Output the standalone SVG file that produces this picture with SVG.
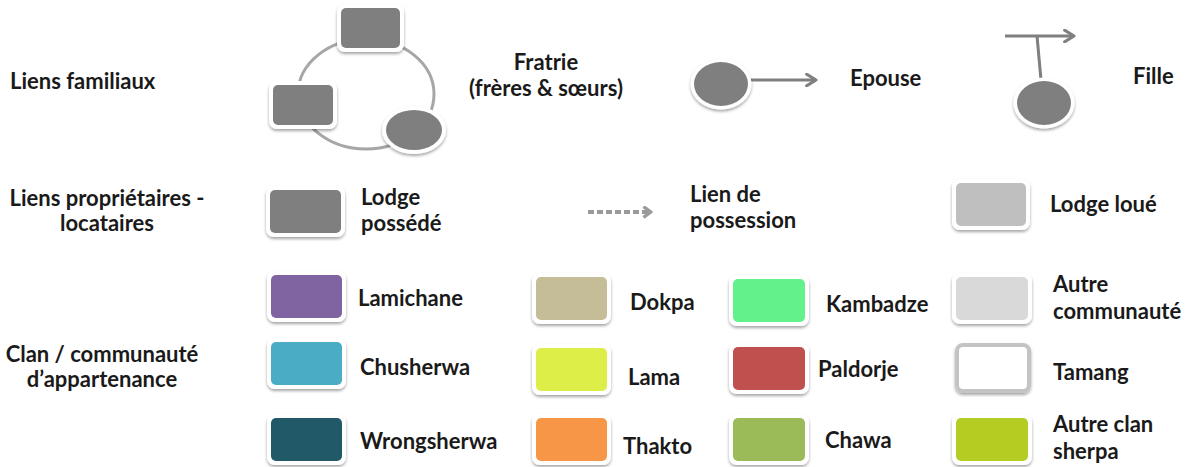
<svg xmlns="http://www.w3.org/2000/svg" width="1196" height="467" viewBox="0 0 1196 467">
<defs>
<filter id="sh" x="-20%" y="-20%" width="140%" height="160%">
<feDropShadow dx="0" dy="2" stdDeviation="1.6" flood-color="#000" flood-opacity="0.35"/>
</filter>
<marker id="ah" viewBox="0 0 12 12" refX="10" refY="6" markerWidth="14" markerHeight="14" markerUnits="userSpaceOnUse" orient="auto">
<path d="M2,1 L10,6 L2,11" fill="none" stroke="#7f7f7f" stroke-width="2.6" stroke-linecap="round" stroke-linejoin="round"/>
</marker>
<marker id="ahd" viewBox="0 0 12 12" refX="10" refY="6" markerWidth="13" markerHeight="13" markerUnits="userSpaceOnUse" orient="auto">
<path d="M3,1 L10,6 L3,11" fill="none" stroke="#9a9a9a" stroke-width="3" stroke-linejoin="round"/>
</marker>
</defs>
<style>
text{font-family:Lato,"Open Sans","Liberation Sans",sans-serif;font-weight:bold;font-size:22px;fill:#1a1a1a}
.fr{fill:#fff;filter:url(#sh)}
.g{fill:#7f7f7f}
.mid{text-anchor:middle}
.ln{fill:none;stroke:#7f7f7f;stroke-width:3}
</style>
<rect width="1196" height="467" fill="#fff"/>

<g id="labels">
<text x="10" y="89">Liens familiaux</text>
<text class="mid" x="107" y="206">Liens propriétaires -</text>
<text class="mid" x="107" y="231">locataires</text>
<text class="mid" x="102" y="362">Clan / communauté</text>
<text class="mid" x="102" y="387">d’appartenance</text>
</g>

<g id="connectors">
<ellipse cx="366" cy="94" rx="68" ry="55" fill="none" stroke="#a6a6a6" stroke-width="3"/>
<line class="ln" x1="748" y1="80" x2="816" y2="80" marker-end="url(#ah)"/>
<line class="ln" x1="1005" y1="36" x2="1074" y2="36" marker-end="url(#ah)"/>
<line class="ln" x1="1037" y1="36" x2="1041" y2="80"/>
<line x1="588" y1="212" x2="651" y2="212" stroke="#9a9a9a" stroke-width="4" stroke-dasharray="6 3" marker-end="url(#ahd)"/>
</g>

<g id="fratrie">
<rect class="fr" x="337" y="4" width="67" height="48" rx="8"/>
<rect class="g" x="341" y="8" width="59" height="40" rx="5"/>
<rect class="fr" x="269" y="81" width="68" height="48" rx="8"/>
<rect class="g" x="273" y="85" width="60" height="40" rx="5"/>
<ellipse class="fr" cx="414" cy="130" rx="32" ry="24"/>
<ellipse class="g" cx="414" cy="130" rx="28" ry="20"/>
<text class="mid" x="546" y="70">Fratrie</text>
<text class="mid" x="546" y="96">(frères &amp; sœurs)</text>
</g>

<g id="epouse">
<ellipse class="fr" cx="721" cy="84" rx="30.5" ry="25.5"/>
<ellipse class="g" cx="721" cy="84" rx="27" ry="22"/>
<text x="850" y="86">Epouse</text>
</g>

<g id="fille">
<ellipse class="fr" cx="1044" cy="103" rx="30.5" ry="25.5"/>
<ellipse class="g" cx="1044" cy="103" rx="27" ry="22"/>
<text x="1133" y="84">Fille</text>
</g>

<g id="lodge-possede">
<rect class="fr" x="266" y="186" width="79" height="51" rx="8"/>
<rect class="g" x="270" y="190" width="71" height="43" rx="5"/>
<text x="361" y="205">Lodge</text>
<text x="361" y="231">possédé</text>
</g>

<g id="lien-possession">
<text x="690" y="202">Lien de</text>
<text x="690" y="228">possession</text>
</g>

<g id="lodge-loue">
<rect class="fr" x="952" y="179" width="78" height="51" rx="8"/>
<rect x="956" y="183" width="70" height="43" rx="5" fill="#bfbfbf"/>
<text x="1050" y="212">Lodge loué</text>
</g>

<g id="lamichane">
<rect class="fr" x="267" y="271" width="79" height="51" rx="8"/>
<rect x="271" y="275" width="71" height="43" rx="5" fill="#8064a2"/>
<text x="358" y="306">Lamichane</text>
</g>
<g id="chusherwa">
<rect class="fr" x="267" y="338" width="79" height="51" rx="8"/>
<rect x="271" y="342" width="71" height="43" rx="5" fill="#4bacc6"/>
<text x="360" y="375">Chusherwa</text>
</g>
<g id="wrongsherwa">
<rect class="fr" x="267" y="414" width="79" height="51" rx="8"/>
<rect x="271" y="418" width="71" height="43" rx="5" fill="#215968"/>
<text x="360" y="449">Wrongsherwa</text>
</g>

<g id="dokpa">
<rect class="fr" x="532" y="273" width="79" height="51" rx="8"/>
<rect x="536" y="277" width="71" height="43" rx="5" fill="#c4bd97"/>
<text x="630" y="310">Dokpa</text>
</g>
<g id="lama">
<rect class="fr" x="532" y="344" width="79" height="51" rx="8"/>
<rect x="536" y="348" width="71" height="43" rx="5" fill="#ddee48"/>
<text x="628" y="385">Lama</text>
</g>
<g id="thakto">
<rect class="fr" x="532" y="414" width="79" height="51" rx="8"/>
<rect x="536" y="418" width="71" height="43" rx="5" fill="#f79646"/>
<text x="623" y="454">Thakto</text>
</g>

<g id="kambadze">
<rect class="fr" x="729" y="275" width="80" height="51" rx="8"/>
<rect x="733" y="279" width="72" height="43" rx="5" fill="#62f18a"/>
<text x="826" y="312">Kambadze</text>
</g>
<g id="paldorje">
<rect class="fr" x="729" y="343" width="80" height="51" rx="8"/>
<rect x="733" y="347" width="72" height="43" rx="5" fill="#c0504d"/>
<text x="818" y="377">Paldorje</text>
</g>
<g id="chawa">
<rect class="fr" x="729" y="414" width="80" height="51" rx="8"/>
<rect x="733" y="418" width="72" height="43" rx="5" fill="#9bbb59"/>
<text x="825" y="448">Chawa</text>
</g>

<g id="autre-communaute">
<rect class="fr" x="952" y="273" width="80" height="51" rx="8"/>
<rect x="956" y="277" width="72" height="43" rx="5" fill="#d9d9d9"/>
<text x="1053" y="292">Autre</text>
<text x="1053" y="319">communauté</text>
</g>
<g id="tamang">
<rect x="957" y="345" width="72" height="46" rx="6" fill="#fff" stroke="#c4c4c4" stroke-width="4" filter="url(#sh)"/>
<text x="1053" y="380">Tamang</text>
</g>
<g id="autre-clan-sherpa">
<rect class="fr" x="952" y="414" width="80" height="51" rx="8"/>
<rect x="956" y="418" width="72" height="43" rx="5" fill="#b5cc22"/>
<text x="1053" y="432">Autre clan</text>
<text x="1053" y="459">sherpa</text>
</g>
</svg>
